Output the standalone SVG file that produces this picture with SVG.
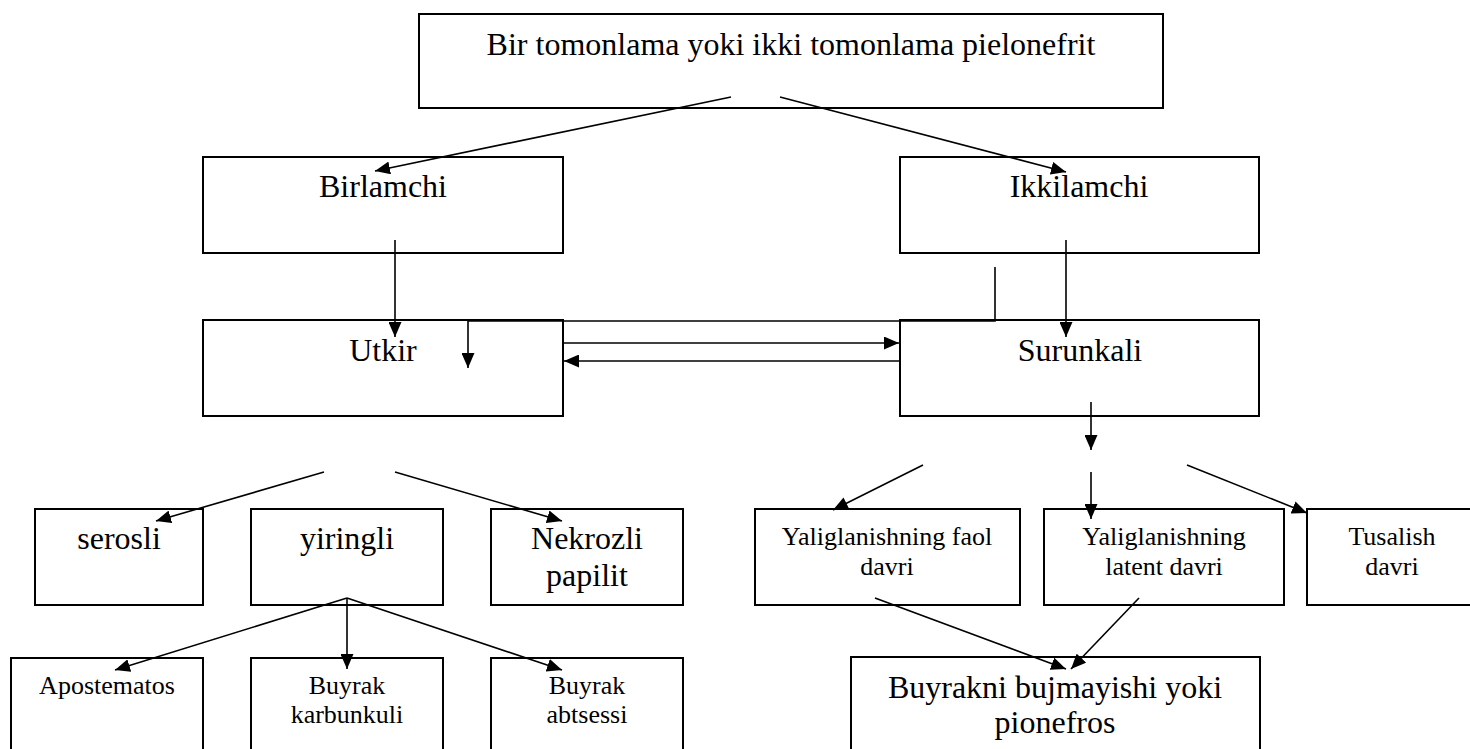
<svg xmlns="http://www.w3.org/2000/svg" width="1470" height="749" viewBox="0 0 1470 749">
<style>
rect.box{fill:#fff;stroke:#000;stroke-width:2}
text{font-family:"Liberation Serif","Times New Roman",serif;fill:#000;text-anchor:middle}
.big{font-size:32px}
.sm{font-size:26px}
.conn path{fill:none;stroke:#000;stroke-width:1.6;marker-end:url(#ah)}
</style>
<defs>
<marker id="ah" markerUnits="userSpaceOnUse" markerWidth="15" markerHeight="13" refX="15" refY="6.5" orient="auto">
<path d="M0,0 L15,6.5 L0,13 z" fill="#000"/>
</marker>
</defs>
<rect width="1470" height="749" fill="#fff"/>
<g id="n-top"><rect class="box" x="419" y="14" width="744" height="94"/><text class="big" x="791" y="55">Bir tomonlama yoki ikki tomonlama pielonefrit</text></g>
<g id="n-birlamchi"><rect class="box" x="203" y="157" width="360" height="96"/><text class="big" x="383" y="197">Birlamchi</text></g>
<g id="n-ikkilamchi"><rect class="box" x="900" y="157" width="359" height="96"/><text class="big" x="1079" y="197">Ikkilamchi</text></g>
<g id="n-utkir"><rect class="box" x="203" y="320" width="360" height="96"/><text class="big" x="383" y="361">Utkir</text></g>
<g id="n-surunkali"><rect class="box" x="900" y="320" width="359" height="96"/><text class="big" x="1080" y="361">Surunkali</text></g>
<g id="n-serosli"><rect class="box" x="35" y="509" width="168" height="96"/><text class="big" x="119" y="549">serosli</text></g>
<g id="n-yiringli"><rect class="box" x="251" y="509" width="192" height="96"/><text class="big" x="347" y="549">yiringli</text></g>
<g id="n-nekrozli"><rect class="box" x="491" y="509" width="192" height="96"/><text class="big" x="587" y="549">Nekrozli</text><text class="big" x="587" y="586">papilit</text></g>
<g id="n-faol"><rect class="box" x="755" y="509" width="265" height="96"/><text class="sm" x="887" y="545">Yaliglanishning faol</text><text class="sm" x="887" y="575">davri</text></g>
<g id="n-latent"><rect class="box" x="1044" y="509" width="240" height="96"/><text class="sm" x="1164" y="545">Yaliglanishning</text><text class="sm" x="1164" y="575">latent davri</text></g>
<g id="n-tusalish"><rect class="box" x="1307" y="509" width="171" height="96"/><text class="sm" x="1392" y="545">Tusalish</text><text class="sm" x="1392" y="575">davri</text></g>
<g id="n-apostematos"><rect class="box" x="11" y="658" width="192" height="100"/><text class="sm" x="107" y="694">Apostematos</text></g>
<g id="n-karbunkuli"><rect class="box" x="251" y="658" width="192" height="100"/><text class="sm" x="347" y="694">Buyrak</text><text class="sm" x="347" y="723">karbunkuli</text></g>
<g id="n-abtsessi"><rect class="box" x="491" y="658" width="192" height="100"/><text class="sm" x="587" y="694">Buyrak</text><text class="sm" x="587" y="723">abtsessi</text></g>
<g id="n-buyrakni"><rect class="box" x="851" y="657" width="409" height="100"/><text class="big" x="1055" y="698">Buyrakni bujmayishi yoki</text><text class="big" x="1055" y="733">pionefros</text></g>
<g id="connectors" class="conn">
<path d="M731,97 L375,171"/>
<path d="M780,97 L1066,172"/>
<path d="M395,240 L395,337"/>
<path d="M1066,240 L1066,337"/>
<path d="M995,267 L995,321 L468,321 L468,368"/>
<path d="M563,343 L899,343"/>
<path d="M900,361 L564,361"/>
<path d="M1091,402 L1091,450"/>
<path d="M923,465 L833,510"/>
<path d="M1091,472 L1091,519"/>
<path d="M1187,465 L1307,513"/>
<path d="M324,472 L156,521"/>
<path d="M395,472 L562,521"/>
<path d="M347,598 L115,670"/>
<path d="M347,598 L347,669"/>
<path d="M347,598 L562,670"/>
<path d="M875,598 L1066,669"/>
<path d="M1139,598 L1071,669"/>
</g>
</svg>
